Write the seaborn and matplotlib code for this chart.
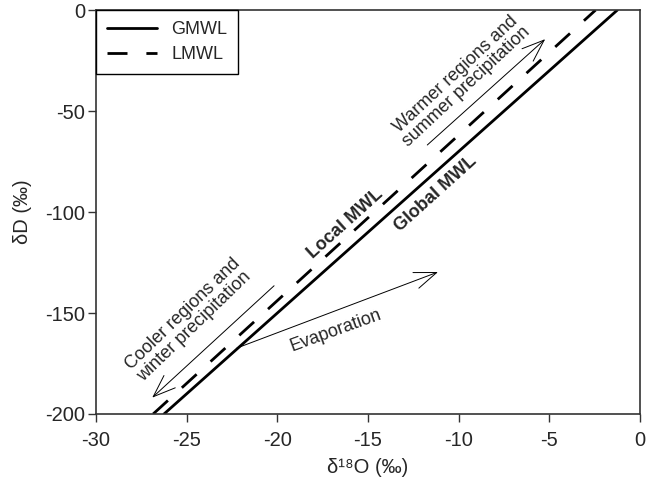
import pandas as pd
import matplotlib
matplotlib.use("Agg")
import matplotlib.pyplot as plt
import seaborn as sns

# Meteoric water lines (end points)
gmwl_d18o = [-26.25, -1.25]
gmwl_dd = [-200, 0]
lmwl_d18o = [-26.85, -2.45]
lmwl_dd = [-200, 0]

x_ticks = [-30, -25, -20, -15, -10, -5, 0]
y_ticks = [-200, -150, -100, -50, 0]

sns.set_style("ticks")
plt.rcParams['font.family'] = ['Liberation Sans', 'DejaVu Sans']
plt.rcParams['axes.unicode_minus'] = False

lines = pd.concat([
    pd.DataFrame({'d18O': gmwl_d18o, 'dD': gmwl_dd, 'line': 'GMWL'}),
    pd.DataFrame({'d18O': lmwl_d18o, 'dD': lmwl_dd, 'line': 'LMWL'}),
])

fig, ax = plt.subplots(figsize=(6.54, 4.8), dpi=100)
fig.subplots_adjust(left=0.1468, right=0.9786, bottom=0.1375, top=0.979)

sns.lineplot(data=lines, x='d18O', y='dD', hue='line', style='line',
             palette=['black', 'black'], dashes=[(None, None), (7.2, 6.8)],
             linewidth=2, ax=ax)

ax.set_xlim(-30, 0)
ax.set_ylim(-200, 0)
ax.set_xticks(x_ticks)
ax.set_yticks(y_ticks)
ax.tick_params(direction='out', length=6, width=1, labelsize=14.5,
               color='#333333')
ax.tick_params(axis='x', pad=6)
ax.tick_params(axis='y', pad=2)
for sp in ax.spines.values():
    sp.set_visible(True)
    sp.set_color('#333333')
    sp.set_linewidth(1.2)

ax.set_xlabel('δ¹⁸O (‰)', fontsize=14.5, labelpad=6)
ax.set_ylabel('δD (‰)', fontsize=14.5, labelpad=9)

leg = ax.legend(loc='upper left', borderaxespad=0, fontsize=13, frameon=True,
                fancybox=False, edgecolor='black', handlelength=2.8,
                handletextpad=0.78, labelspacing=0.45, borderpad=0.6,
                title=None)
leg.get_frame().set_linewidth(1)
leg.get_frame().set_alpha(1)

arrow = dict(arrowstyle='->,head_length=0.4,head_width=0.15', lw=0.7,
             color='black', mutation_scale=40, shrinkA=0, shrinkB=0)
ax.annotate('', xy=(-5.23, -14.4), xytext=(-11.73, -66.8), arrowprops=arrow)
ax.annotate('', xy=(-26.9, -191.9), xytext=(-20.18, -136.5), arrowprops=arrow)
ax.annotate('', xy=(-11.14, -129.7), xytext=(-22.22, -167.3), arrowprops=arrow)

ax.text(-9.87, -34.7, 'Warmer regions and\nsummer precipitation', fontsize=13,
        rotation=43, ha='center', va='center', rotation_mode='anchor',
        multialignment='center', linespacing=1.0)
ax.text(-24.9, -153.5, 'Cooler regions and\nwinter precipitation', fontsize=13,
        rotation=44, ha='center', va='center', rotation_mode='anchor',
        multialignment='center', linespacing=1.0)
ax.text(-16.76, -158.9, 'Evaporation', fontsize=13, rotation=20,
        ha='center', va='center', rotation_mode='anchor')
ax.text(-16.27, -106, 'Local MWL', fontsize=13, fontweight='bold', rotation=42,
        ha='center', va='center', rotation_mode='anchor')
ax.text(-11.25, -91, 'Global MWL', fontsize=13, fontweight='bold', rotation=42,
        ha='center', va='center', rotation_mode='anchor')

fig.savefig('out.png', dpi=100)
